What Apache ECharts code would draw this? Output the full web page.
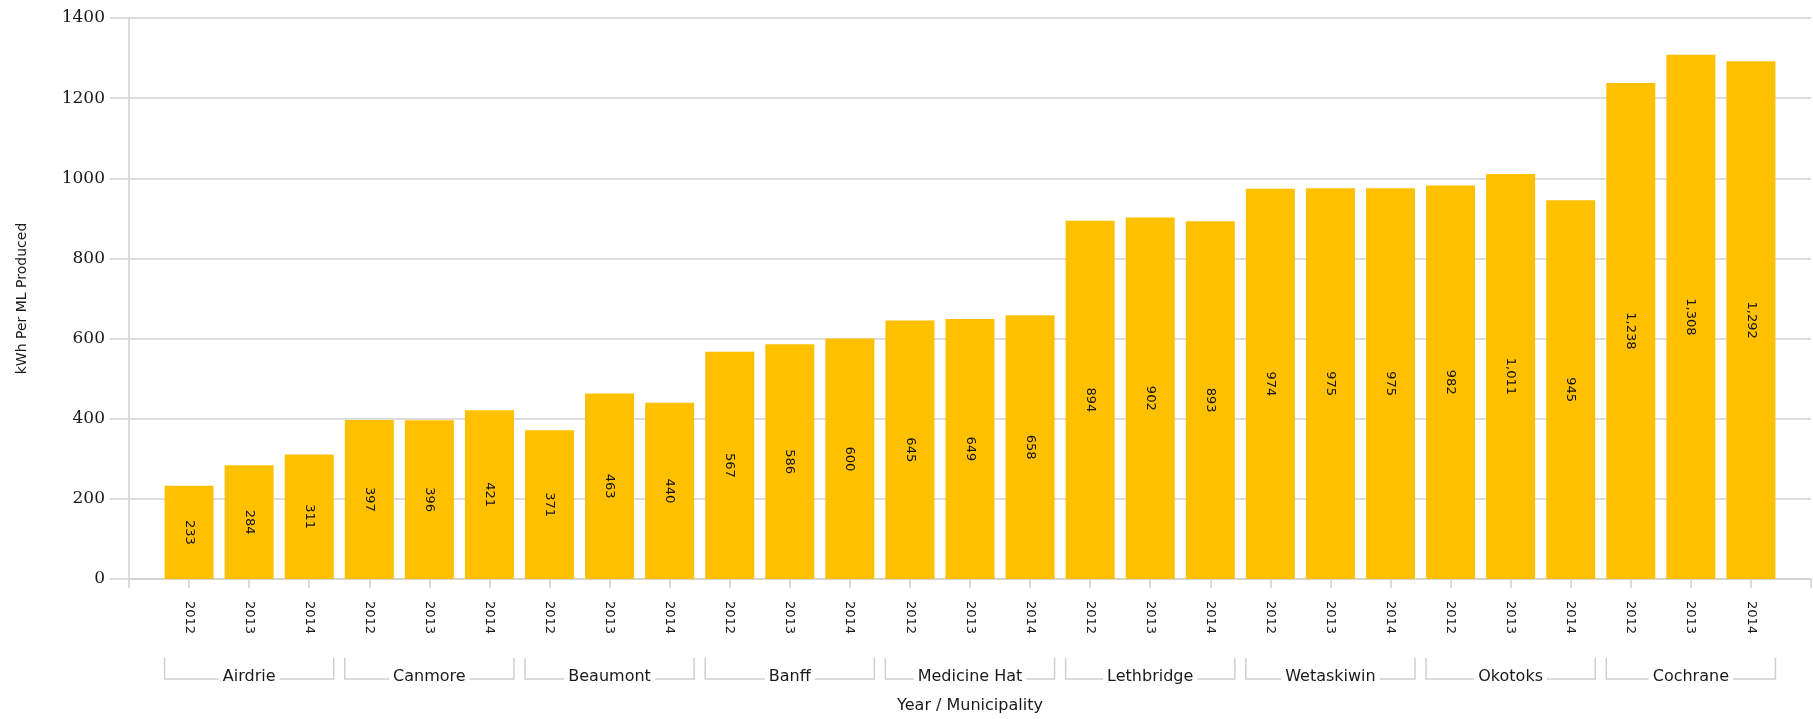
<!DOCTYPE html>
<html>
<head>
<meta charset="utf-8">
<script src="https://cdn.jsdelivr.net/npm/echarts@6/dist/echarts.min.js"></script>
<style>
html,body{margin:0;padding:0;background:#fff;}
#chart{width:1813px;height:719px;}
</style>
</head>
<body>
<div id="chart"></div>
<script>
// ---- data ----
const municipalities = ['Airdrie','Canmore','Beaumont','Banff','Medicine Hat','Lethbridge','Wetaskiwin','Okotoks','Cochrane'];
const years = ['2012','2013','2014'];
const airdrie     = [233, 284, 311];
const canmore     = [397, 396, 421];
const beaumont    = [371, 463, 440];
const banff       = [567, 586, 600];
const medicineHat = [645, 649, 658];
const lethbridge  = [894, 902, 893];
const wetaskiwin  = [974, 975, 975];
const okotoks     = [982, 1011, 945];
const cochrane    = [1238, 1308, 1292];
const yTicks = [0, 200, 400, 600, 800, 1000, 1200, 1400];

const groups = [airdrie, canmore, beaumont, banff, medicineHat, lethbridge, wetaskiwin, okotoks, cochrane];

// build category list with an empty slot at each end
const cats = [''];
const vals = ['-'];
groups.forEach(g => { years.forEach((y, i) => { cats.push(y); vals.push(g[i]); }); });
cats.push(''); vals.push('-');

const chart = echarts.init(document.getElementById('chart'));
const gridColor = '#dcdcdc';
const textColor = '#1a1a1a';
const sans = 'DejaVu Sans';

chart.setOption({
  animation: false,
  grid: { left: 129, right: 2, top: 18, bottom: 139 },
  xAxis: {
    type: 'category',
    data: cats,
    boundaryGap: false,
    name: 'Year / Municipality',
    nameLocation: 'middle',
    nameGap: 119,
    nameTextStyle: { fontFamily: sans, fontSize: 16, color: textColor },
    axisLine: { lineStyle: { color: '#d0d0d0', width: 1.5 } },
    axisTick: { interval: 0, length: 9, lineStyle: { color: '#d0d0d0', width: 1.5 } },
    axisLabel: { interval: 0, rotate: -90, margin: 22, fontFamily: sans, fontSize: 13, color: textColor },
    splitLine: { show: false }
  },
  yAxis: {
    type: 'value',
    min: 0, max: 1400, interval: 200,
    name: 'kWh Per ML Produced',
    nameLocation: 'middle',
    nameGap: 100,
    nameTextStyle: { fontFamily: sans, fontSize: 14, color: textColor },
    axisLine: { show: true, lineStyle: { color: '#d0d0d0', width: 1.5 } },
    axisTick: { show: true, length: 19, lineStyle: { color: gridColor, width: 2 } },
    axisLabel: {
      margin: 24, fontFamily: 'DejaVu Serif', fontSize: 17, color: textColor,
      formatter: v => (yTicks.indexOf(v) >= 0 ? String(v) : '')
    },
    splitLine: { show: true, lineStyle: { color: gridColor, width: 2 } }
  },
  series: [{
    type: 'bar',
    data: vals,
    barWidth: 49,
    itemStyle: { color: '#FFC000' },
    label: {
      show: true,
      position: 'inside',
      rotate: -90,
      fontFamily: sans,
      fontSize: 13,
      color: '#111',
      formatter: p => Number(p.value).toLocaleString('en-US')
    }
  }]
});

// group brackets under the year labels, positioned through the axis scales
function drawBrackets() {
  const ctx = document.createElement('canvas').getContext('2d');
  ctx.font = '16px "' + sans + '"';
  const y0 = chart.convertToPixel({ yAxisIndex: 0 }, 0);
  const yTop = y0 + 79, yLine = y0 + 100;
  const half = 24.5;
  const elements = [];
  const lineStyle = { stroke: '#cfcfcf', lineWidth: 1.5 };
  municipalities.forEach((m, gi) => {
    const xa = chart.convertToPixel({ xAxisIndex: 0 }, 1 + gi * 3) - half;
    const xb = chart.convertToPixel({ xAxisIndex: 0 }, 3 + gi * 3) + half;
    const xc = (xa + xb) / 2;
    const tw = ctx.measureText(m).width;
    elements.push({ type: 'polyline', shape: { points: [[xa, yTop], [xa, yLine], [xc - tw / 2 - 4, yLine]] }, style: lineStyle, silent: true });
    elements.push({ type: 'polyline', shape: { points: [[xc + tw / 2 + 4, yLine], [xb, yLine], [xb, yTop]] }, style: lineStyle, silent: true });
    elements.push({ type: 'text', x: xc, y: yLine - 2, style: { text: m, fontFamily: sans, fontSize: 16, fill: textColor, align: 'center', verticalAlign: 'middle' }, silent: true });
  });
  chart.setOption({ graphic: { elements: elements } });
}
drawBrackets();
</script>
</body>
</html>
